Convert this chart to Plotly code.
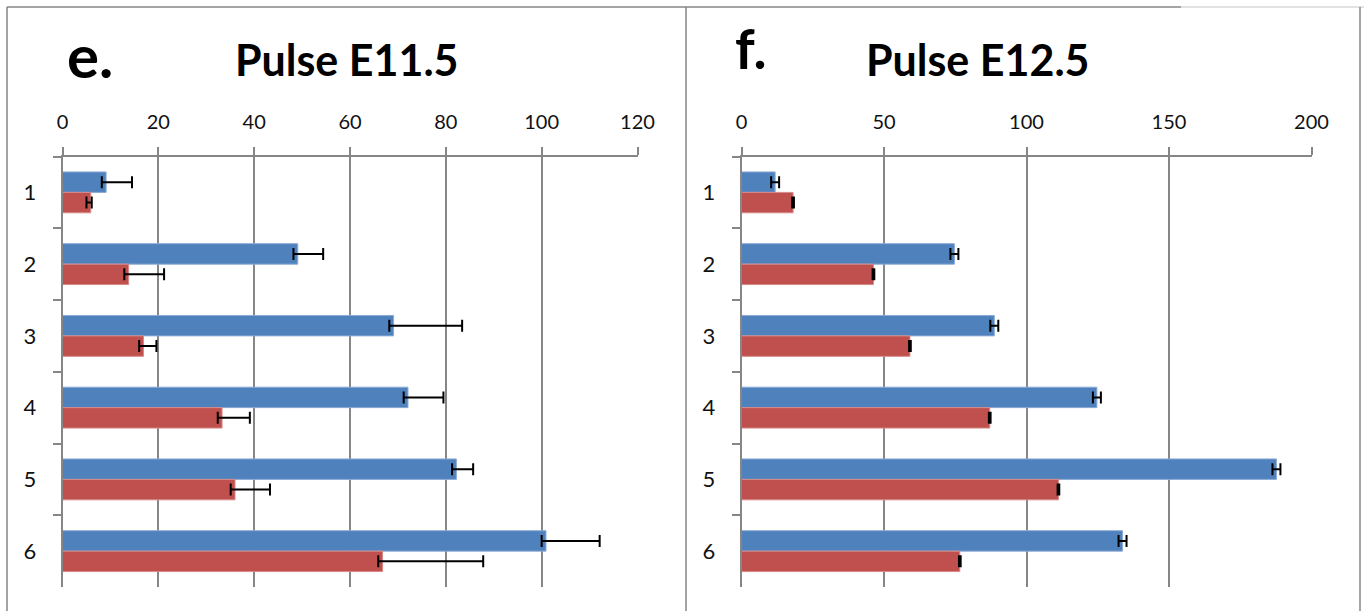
import plotly.graph_objects as go

# ---------------- data ----------------
categories = ['1', '2', '3', '4', '5', '6']

e_blue = [9.1, 49.1, 69.1, 72.1, 82.2, 100.9]
e_blue_err = [5.4, 5.3, 14.3, 7.4, 3.5, 11.2]
e_red = [5.9, 13.8, 16.9, 33.3, 36.0, 66.8]
e_red_err = [0.2, 7.4, 2.7, 5.8, 7.3, 21.0]
e_err_minus = [0.9, 0.9, 0.9, 0.9, 0.9, 0.9]

f_blue = [11.8, 74.7, 88.7, 124.7, 187.7, 133.7]
f_blue_err = [1.4, 1.4, 1.4, 1.4, 1.4, 1.4]
f_red = [18.1, 46.3, 59.1, 87.1, 111.2, 76.6]
f_red_err = [0.3, 0.3, 0.3, 0.3, 0.3, 0.3]

e_ticks = [0, 20, 40, 60, 80, 100, 120]
f_ticks = [0, 50, 100, 150, 200]

panel_letters = ['e.', 'f.']
panel_titles = ['Pulse E11.5', 'Pulse E12.5']

# ---------------- styling ----------------
W, H = 1364, 611
BLUE = '#4F81BD'
RED = '#C0504D'
GRAY = '#868686'
FONT = 'Lato'


def px(x):
    return x / W


def py(y):
    return 1 - y / H


def err(plus, minus):
    return dict(type='data', array=plus, arrayminus=minus, symmetric=False,
                color='black', thickness=2, width=6)


fig = go.Figure()

fig.add_trace(go.Bar(orientation='h', y=categories, x=e_blue, xaxis='x', yaxis='y',
                     marker=dict(color=BLUE, line=dict(color='#8DAAD6', width=1)),
                     error_x=err(e_blue_err, e_err_minus)))
fig.add_trace(go.Bar(orientation='h', y=categories, x=e_red, xaxis='x', yaxis='y',
                     marker=dict(color=RED, line=dict(color='#D68A88', width=1)),
                     error_x=err(e_red_err, e_err_minus)))
fig.add_trace(go.Bar(orientation='h', y=categories, x=f_blue, xaxis='x2', yaxis='y2',
                     marker=dict(color=BLUE, line=dict(color='#8DAAD6', width=1)),
                     error_x=err(f_blue_err, f_blue_err)))
fig.add_trace(go.Bar(orientation='h', y=categories, x=f_red, xaxis='x2', yaxis='y2',
                     marker=dict(color=RED, line=dict(color='#D68A88', width=1)),
                     error_x=err(f_red_err, f_red_err)))

ydom = [py(587), py(156.5)]

xcommon = dict(side='top', showgrid=True, gridcolor=GRAY, gridwidth=1.6,
               showline=True, linecolor=GRAY, linewidth=1.6,
               ticks='outside', ticklen=8, tickcolor=GRAY, tickwidth=1.6,
               tickfont=dict(family=FONT, size=20, color='#111111'),
               ticklabelstandoff=10, zeroline=False, fixedrange=True, automargin=False)
ycommon = dict(type='category', categoryorder='array', categoryarray=categories,
               autorange='reversed', showgrid=False, showline=True, linecolor=GRAY,
               linewidth=1.6, ticks='outside', tickson='boundaries', ticklen=8,
               tickcolor=GRAY, tickwidth=1.6,
               tickfont=dict(family=FONT, size=22, color='#111111'),
               ticklabelstandoff=20, domain=ydom, fixedrange=True, automargin=False)

fig.update_layout(
    template='none',
    width=W, height=H,
    margin=dict(l=0, r=0, t=0, b=0, pad=0),
    paper_bgcolor='white', plot_bgcolor='white',
    showlegend=False,
    barmode='group', bargap=0.43, bargroupgap=0,
    xaxis=dict(domain=[px(62.5), px(637.5)], range=[0, 120], tickvals=e_ticks,
               anchor='y', **xcommon),
    yaxis=dict(anchor='x', **ycommon),
    xaxis2=dict(domain=[px(741.5), px(1311.5)], range=[0, 200], tickvals=f_ticks,
                anchor='y2', **xcommon),
    yaxis2=dict(anchor='x2', **ycommon),
)

# frames
shapes = [
    dict(type='line', xref='paper', yref='paper', x0=px(7), x1=px(7), y0=py(7), y1=py(620),
         line=dict(color=GRAY, width=1.5)),
    dict(type='line', xref='paper', yref='paper', x0=px(7), x1=px(1181), y0=py(7), y1=py(7),
         line=dict(color=GRAY, width=1.5)),
    dict(type='line', xref='paper', yref='paper', x0=px(1181), x1=px(1364), y0=py(7), y1=py(7),
         line=dict(color='#D9D9D9', width=1.5)),
    dict(type='line', xref='paper', yref='paper', x0=px(686), x1=px(686), y0=py(7), y1=py(620),
         line=dict(color=GRAY, width=1.5)),
    dict(type='line', xref='paper', yref='paper', x0=px(1360), x1=px(1360), y0=py(7), y1=py(620),
         line=dict(color=GRAY, width=1.5)),
]
fig.update_layout(shapes=shapes)

annotations = [
    dict(text='<b>' + panel_letters[0] + '</b>', x=px(65), y=py(79), xanchor='left',
         yanchor='bottom', font=dict(family=FONT, size=60, color='black'), showarrow=False,
         xref='paper', yref='paper', yshift=-14),
    dict(text='<b>' + panel_letters[1] + '</b>', x=px(733), y=py(70), xanchor='left',
         yanchor='bottom', font=dict(family=FONT, size=55, color='black'), showarrow=False,
         xref='paper', yref='paper', yshift=-13),
    dict(text='<b>' + panel_titles[0] + '</b>', x=px(347), y=py(60), xanchor='center',
         yanchor='middle', font=dict(family=FONT, size=43, color='black'), showarrow=False,
         xref='paper', yref='paper'),
    dict(text='<b>' + panel_titles[1] + '</b>', x=px(978), y=py(60), xanchor='center',
         yanchor='middle', font=dict(family=FONT, size=43, color='black'), showarrow=False,
         xref='paper', yref='paper'),
]
fig.update_layout(annotations=annotations)

fig.write_html('out.html', config={'displayModeBar': False},
               post_script="document.body.style.margin='0';document.body.style.overflow='hidden';")
